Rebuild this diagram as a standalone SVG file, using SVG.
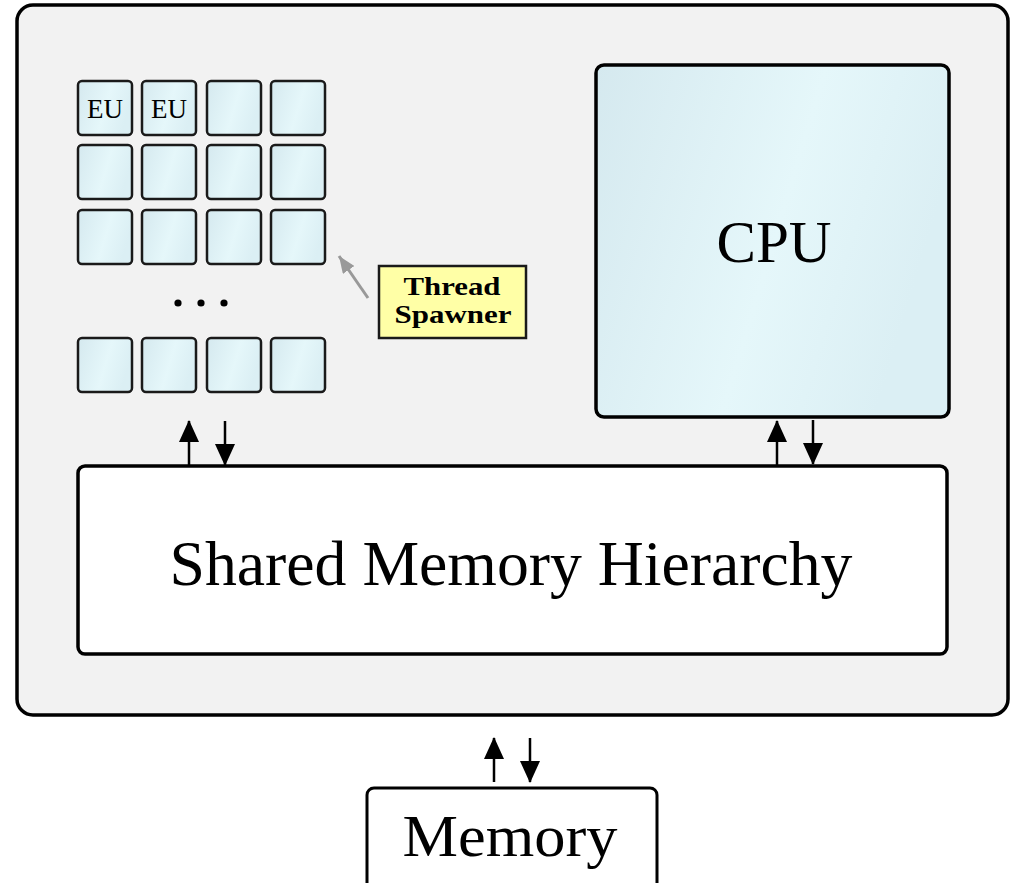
<svg xmlns="http://www.w3.org/2000/svg" width="1014" height="883" viewBox="0 0 1014 883">
<defs>
<linearGradient id="blue" x1="0" y1="0" x2="1" y2="0.3">
<stop offset="0" stop-color="#d5e9ef"/>
<stop offset="0.6" stop-color="#e5f7fa"/>
<stop offset="1" stop-color="#dbeff4"/>
</linearGradient>
<marker id="ah" markerUnits="userSpaceOnUse" markerWidth="22" markerHeight="20" refX="21" refY="10" orient="auto">
<path d="M0,0 L22,10 L0,20 z" fill="#000"/>
</marker>
<marker id="ahg" markerUnits="userSpaceOnUse" markerWidth="17" markerHeight="14" refX="17" refY="7" orient="auto">
<path d="M0,0 L17,7 L0,14 z" fill="#999"/>
</marker>
</defs>
<style>
.eu{fill:url(#blue);stroke:#1a1a1a;stroke-width:2.5}
.big{font-family:"Liberation Serif",serif;fill:#000}
.ar{stroke:#000;stroke-width:2.5;fill:none;marker-end:url(#ah)}
</style>
<g id="chip">
<rect x="17" y="5" width="991" height="710" rx="16" fill="#f2f2f2" stroke="#000" stroke-width="3.5"/>
</g>
<g id="eu-grid">
<rect class="eu" x="78" y="81" width="54" height="54" rx="4"/>
<rect class="eu" x="142" y="81" width="54" height="54" rx="4"/>
<rect class="eu" x="207" y="81" width="54" height="54" rx="4"/>
<rect class="eu" x="271" y="81" width="54" height="54" rx="4"/>
<rect class="eu" x="78" y="145" width="54" height="54" rx="4"/>
<rect class="eu" x="142" y="145" width="54" height="54" rx="4"/>
<rect class="eu" x="207" y="145" width="54" height="54" rx="4"/>
<rect class="eu" x="271" y="145" width="54" height="54" rx="4"/>
<rect class="eu" x="78" y="210" width="54" height="54" rx="4"/>
<rect class="eu" x="142" y="210" width="54" height="54" rx="4"/>
<rect class="eu" x="207" y="210" width="54" height="54" rx="4"/>
<rect class="eu" x="271" y="210" width="54" height="54" rx="4"/>
<rect class="eu" x="78" y="338" width="54" height="54" rx="4"/>
<rect class="eu" x="142" y="338" width="54" height="54" rx="4"/>
<rect class="eu" x="207" y="338" width="54" height="54" rx="4"/>
<rect class="eu" x="271" y="338" width="54" height="54" rx="4"/>
<text class="big" x="105" y="118" font-size="28" text-anchor="middle" textLength="36" lengthAdjust="spacingAndGlyphs">EU</text>
<text class="big" x="169" y="118" font-size="28" text-anchor="middle" textLength="36" lengthAdjust="spacingAndGlyphs">EU</text>
<circle cx="178" cy="303" r="3.6" fill="#000"/>
<circle cx="201" cy="303" r="3.6" fill="#000"/>
<circle cx="224" cy="303" r="3.6" fill="#000"/>
</g>
<g id="thread-spawner">
<rect x="379" y="266" width="147" height="72" fill="#ffffa6" stroke="#1a1a1a" stroke-width="2.5"/>
<text class="big" x="452" y="295" font-size="25" font-weight="bold" text-anchor="middle" textLength="97" lengthAdjust="spacingAndGlyphs">Thread</text>
<text class="big" x="453" y="323" font-size="25" font-weight="bold" text-anchor="middle" textLength="117" lengthAdjust="spacingAndGlyphs">Spawner</text>
</g>
<g id="cpu">
<rect x="596" y="65" width="353" height="352" rx="8" fill="url(#blue)" stroke="#000" stroke-width="3.5"/>
<text class="big" x="774" y="262" font-size="60" text-anchor="middle" textLength="115" lengthAdjust="spacingAndGlyphs">CPU</text>
</g>
<g id="shared-memory">
<rect x="78" y="466" width="869" height="188" rx="7" fill="#fff" stroke="#000" stroke-width="3.5"/>
<text class="big" x="511" y="585" font-size="63" text-anchor="middle" textLength="683" lengthAdjust="spacingAndGlyphs">Shared Memory Hierarchy</text>
</g>
<g id="memory">
<rect x="367" y="788" width="290" height="130" rx="7" fill="#fff" stroke="#000" stroke-width="3"/>
<text class="big" x="510" y="856" font-size="60" text-anchor="middle" textLength="215" lengthAdjust="spacingAndGlyphs">Memory</text>
</g>
<g id="connectors">
<line class="ar" x1="189" y1="465" x2="189" y2="421"/>
<line class="ar" x1="225" y1="421" x2="225" y2="465"/>
<line class="ar" x1="777" y1="466" x2="777" y2="421"/>
<line class="ar" x1="813" y1="420" x2="813" y2="464"/>
<line class="ar" x1="494" y1="782" x2="494" y2="738"/>
<line class="ar" x1="530" y1="738" x2="530" y2="782"/>
<line x1="368" y1="298" x2="339" y2="256" stroke="#999" stroke-width="3" marker-end="url(#ahg)"/>
</g>
</svg>
